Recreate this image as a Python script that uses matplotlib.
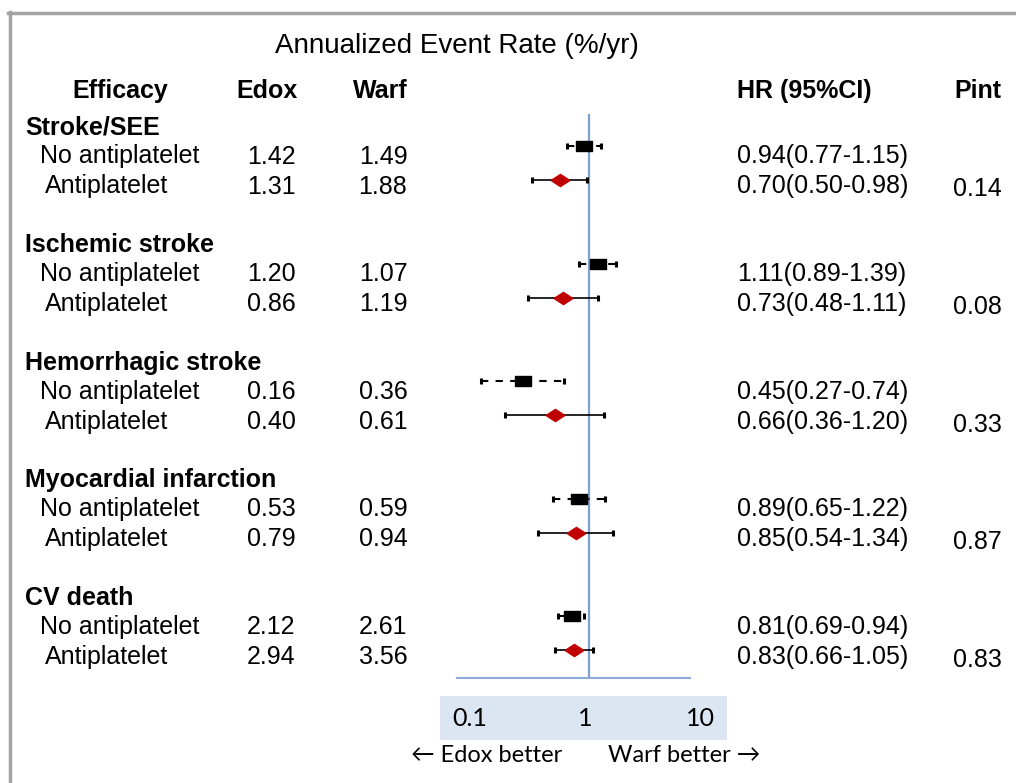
import matplotlib
matplotlib.use("Agg")
import matplotlib.pyplot as plt
from matplotlib.lines import Line2D

# table data
groups = ["Stroke/SEE", "Ischemic stroke", "Hemorrhagic stroke",
          "Myocardial infarction", "CV death"]
subgroups = ["No antiplatelet", "Antiplatelet"]
edox_no = ["1.42", "1.20", "0.16", "0.53", "2.12"]
edox_anti = ["1.31", "0.86", "0.40", "0.79", "2.94"]
warf_no = ["1.49", "1.07", "0.36", "0.59", "2.61"]
warf_anti = ["1.88", "1.19", "0.61", "0.94", "3.56"]
hr_no = [0.94, 1.11, 0.45, 0.89, 0.81]
lo_no = [0.77, 0.89, 0.27, 0.65, 0.69]
hi_no = [1.15, 1.39, 0.74, 1.22, 0.94]
hr_anti = [0.70, 0.73, 0.66, 0.85, 0.83]
lo_anti = [0.50, 0.48, 0.36, 0.54, 0.66]
hi_anti = [0.98, 1.11, 1.20, 1.34, 1.05]
p_int = ["0.14", "0.08", "0.33", "0.87", "0.83"]
scale_ticks = [0.1, 1, 10]

plt.rcParams['font.family'] = ['Liberation Sans', 'DejaVu Sans']
W, H = 1016, 783
fig = plt.figure(figsize=(W / 100, H / 100), dpi=100)

# background axes in pixel coordinates for the table text
bg = fig.add_axes([0, 0, 1, 1])
bg.set_xlim(0, W)
bg.set_ylim(H, 0)
bg.axis('off')

# frame
frame_col = '#a3a3a3'
bg.add_line(Line2D([9.5, 9.5], [12, H], color=frame_col, lw=2.5))
bg.add_line(Line2D([8, W], [13, 13], color=frame_col, lw=2.5))

fs = 18
bg.text(457, 46, "Annualized Event Rate (%/yr)", fontsize=20, ha='center', va='center')
hdr_y = 91
for label, x in [("Efficacy", 120), ("Edox", 267), ("Warf", 380),
                 ("HR (95%CI)", 804), ("Pint", 978)]:
    bg.text(x, hdr_y, label, fontsize=fs, fontweight='bold', ha='center', va='center')

group_y0 = 127.5
step = 117.6
for i, g in enumerate(groups):
    gy = group_y0 + i * step
    y_no = gy + 29
    y_an = gy + 59
    bg.text(25, gy, g, fontsize=fs, fontweight='bold', ha='left', va='center')
    bg.text(40, y_no, subgroups[0], fontsize=fs, ha='left', va='center')
    bg.text(45, y_an, subgroups[1], fontsize=fs, ha='left', va='center')
    bg.text(271, y_no, edox_no[i], fontsize=fs, ha='center', va='center')
    bg.text(271, y_an, edox_anti[i], fontsize=fs, ha='center', va='center')
    bg.text(383, y_no, warf_no[i], fontsize=fs, ha='center', va='center')
    bg.text(383, y_an, warf_anti[i], fontsize=fs, ha='center', va='center')
    bg.text(737, y_no, f"{hr_no[i]:.2f}({lo_no[i]:.2f}-{hi_no[i]:.2f})",
            fontsize=fs, ha='left', va='center')
    bg.text(737, y_an, f"{hr_anti[i]:.2f}({lo_anti[i]:.2f}-{hi_anti[i]:.2f})",
            fontsize=fs, ha='left', va='center')
    bg.text(977, y_an + 3, p_int[i], fontsize=fs, ha='center', va='center')

# forest plot axes: log x, y in the same pixel units as bg
ax_l, ax_r, ax_top, ax_bot = 457, 690, 100, 678
ax = fig.add_axes([ax_l / W, (H - ax_bot) / H, (ax_r - ax_l) / W, (ax_bot - ax_top) / H])
ax.set_xscale('log')
px_per_dec = 190.0
x_one = 589
ax.set_xlim(10 ** ((ax_l - x_one) / px_per_dec), 10 ** ((ax_r - x_one) / px_per_dec))
ax.set_ylim(ax_bot, ax_top)
ax.patch.set_alpha(0)
for s in ['top', 'left', 'right']:
    ax.spines[s].set_visible(False)
ax.spines['bottom'].set_color('#8eaad6')
ax.spines['bottom'].set_linewidth(1.5)
ax.set_xticks([])
ax.set_yticks([])
ax.minorticks_off()
ax.tick_params(which='both', bottom=False, left=False, labelbottom=False)

ax.plot([1, 1], [ax_bot, 115], color='#7f9fcf', lw=1.6, zorder=1)

rect_marker = [(-1, -0.6), (1, -0.6), (1, 0.6), (-1, 0.6), (-1, -0.6)]
diamond_marker = [(-1, 0), (0, 0.65), (1, 0), (0, -0.65), (-1, 0)]

for i in range(len(groups)):
    gy = 126 + i * step
    y_no = gy + 20
    y_an = gy + 54
    eb = ax.errorbar(hr_no[i], y_no,
                     xerr=[[hr_no[i] - lo_no[i]], [hi_no[i] - hr_no[i]]],
                     fmt='none', ecolor='black', elinewidth=1.5,
                     capsize=2.5, capthick=2.2, zorder=2)
    eb[2][0].set_linestyle((0, (3.5, 3.5)))
    ax.plot(hr_no[i], y_no, marker=rect_marker, markersize=12,
            color='black', linestyle='none', zorder=3)
    ax.errorbar(hr_anti[i], y_an,
                xerr=[[hr_anti[i] - lo_anti[i]], [hi_anti[i] - hr_anti[i]]],
                fmt='none', ecolor='black', elinewidth=1.2,
                capsize=2.5, capthick=2.2, zorder=2)
    ax.plot(hr_anti[i], y_an, marker=diamond_marker, markersize=13.5,
            color='#c00000', linestyle='none', zorder=3)

# scale box under the plot
bx_l, bx_r, bx_top, bx_bot = 440, 727, 696, 740
box = fig.add_axes([bx_l / W, (H - bx_bot) / H, (bx_r - bx_l) / W, (bx_bot - bx_top) / H])
box.set_xscale('log')
box.set_xlim(10 ** (-1 - 30 / 115), 10 ** (1 + 27 / 115))
box.set_ylim(0, 1)
box.set_facecolor('#dce6f2')
for s in box.spines.values():
    s.set_visible(False)
box.set_xticks([])
box.set_yticks([])
box.minorticks_off()
box.tick_params(which='both', bottom=False, left=False, labelbottom=False)
for v in scale_ticks:
    box.text(v, 0.5, f"{v:g}", fontsize=18, family=['Lato', 'DejaVu Sans'],
             ha='center', va='center')

bg.text(487, 755, "\u2190 Edox better", fontsize=17, family=['Lato', 'DejaVu Sans'],
        ha='center', va='center')
bg.text(684, 755, "Warf better \u2192", fontsize=17, family=['Lato', 'DejaVu Sans'],
        ha='center', va='center')

fig.savefig("out.png", dpi=100)
